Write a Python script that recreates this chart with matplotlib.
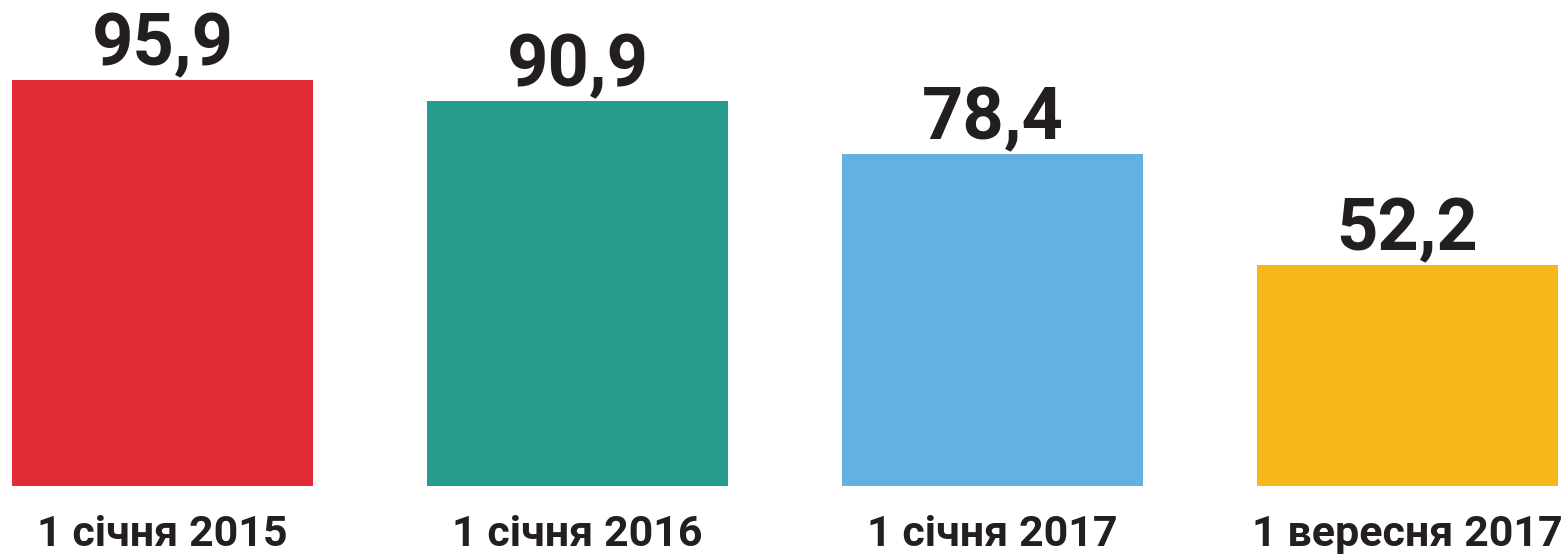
import matplotlib
matplotlib.use("Agg")
import matplotlib.pyplot as plt

categories = ["1 січня 2015", "1 січня 2016", "1 січня 2017", "1 вересня 2017"]
values = [95.9, 90.9, 78.4, 52.2]
value_labels = ["95,9", "90,9", "78,4", "52,2"]
colors = ["#E32A37", "#289C8C", "#64B1E1", "#F6B819"]

W, H = 1561, 554
fig = plt.figure(figsize=(W / 100, H / 100), dpi=100)
ax = fig.add_axes([0, 68 / H, 1, 486 / H])
ax.set_xlim(-162.5 / 415, (W - 162.5) / 415)
ax.set_ylim(0, 486 / 4.234)
ax.axis("off")

x = list(range(len(values)))
ax.bar(x, values, width=301 / 415, color=colors, linewidth=0)

font = dict(family=["Roboto", "DejaVu Sans"], weight="bold", style="normal", color="#231F20")
px = 72 / 100
for xi, v, lab, cat in zip(x, values, value_labels, categories):
    ax.annotate(lab, (xi, v), xytext=(0, 15 * px), textcoords="offset points",
                ha="center", va="baseline", fontsize=52, **font)
    ax.annotate(cat, (xi, 0), xytext=(0, -60 * px), textcoords="offset points",
                ha="center", va="baseline", fontsize=31, annotation_clip=False, **font)

fig.savefig("out.png", dpi=100)
